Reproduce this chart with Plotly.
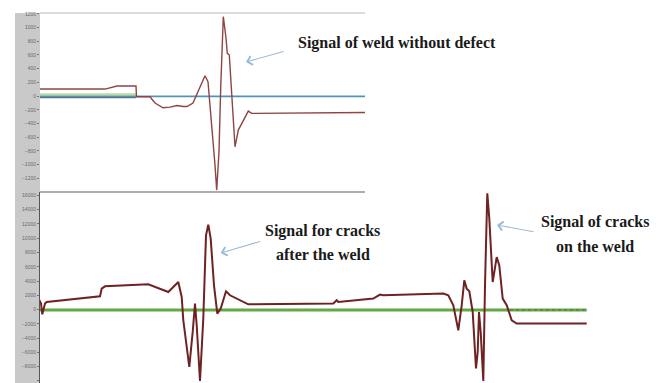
import plotly.graph_objects as go

# The page body has an 8px default margin, so the figure is drawn 8px smaller
# and every layout position below is given in window pixels via px()/py().
OFF = 8
W, H = 665 - OFF, 383 - OFF

# ---------------- data ----------------
# Top panel: weld without defect (sample index, amplitude)
top_x = [0, 65, 77, 96, 96.5, 110, 115, 123, 130, 137, 143, 147, 153, 160, 165, 168,
         171.7, 175, 176.7, 179, 180.7, 183.3, 186, 187.3, 189.3, 191.7, 195, 198.3,
         203.3, 208.3, 211.7, 325]
top_y = [102, 102, 146, 146, -10, -10, -102, -171, -161, -139, -153, -153, -102, 117,
         296, 209, -375, -1007, -1372, -813, 117, 1158, 847, 623, 599, 15, -740, -496,
         -350, -219, -253, -241]
top_green_x = [0, 96]
top_green_y = [25, 25]
top_dark_x = [0, 96]
top_dark_y = [-19, -19]
top_blue_x = [0, 325]
top_blue_y = [-5, -5]

# Bottom panel: cracks after the weld and on the weld
bot_x = [-1, 1, 2.3, 5, 6.7, 60, 61.7, 65, 108.3, 128.3, 138.3, 141.7, 143.3, 149.3,
         152.7, 155, 156.7, 160, 163.3, 166, 168.3, 170.7, 174, 177.3, 180.7, 186, 190,
         200, 208.3, 293.3, 296.7, 298.3, 310, 333.3, 340, 343.3, 403.3, 408.3, 413.3,
         418.3, 421.7, 424.3, 426.7, 429.3, 432.7, 436, 437.7, 439, 440.7, 443.3, 445,
         447.3, 449.3, 452.7, 456.7, 459.3, 462.7, 466.7, 471.7, 476.7, 546.7]
bot_y = [1400, 840, -658, 840, 1064, 1862, 2940, 3262, 3542, 2464, 3864, 1764, -1498,
         -8036, -3136, 840, -2198, -10000, -1260, 10402, 11900, 9940, 3402, -560, 140,
         2562, 2002, 1302, 742, 840, 1302, 1064, 1204, 1540, 2100, 2002, 2240, 2002, 602,
         -2898, 602, 4102, 2940, 2562, -336, -8260, -5936, -336, -3136, -10000, 3402,
         16300, 12740, 3864, 7364, 6202, 1540, 602, -1498, -1960, -1960]
bot_green_x = [0, 546.7]
bot_green_y = [-60, -60]
bot_dot_x = [470, 546.7]
bot_dot_y = [-60, -60]

top_ticks = list(range(-1200, 1201, 200))
bot_ticks = list(range(-10000, 16001, 2000))

# ---------------- figure ----------------
def px(x):
    return (x - OFF) / W

def py(y):
    return 1 - (y - OFF) / H

fig = go.Figure()

fig.add_trace(go.Scatter(x=top_dark_x, y=top_dark_y, mode="lines",
                         line=dict(color="#6b6b6b", width=1.6), xaxis="x", yaxis="y"))
fig.add_trace(go.Scatter(x=top_green_x, y=top_green_y, mode="lines",
                         line=dict(color="#b9dc9e", width=2.2), xaxis="x", yaxis="y"))
fig.add_trace(go.Scatter(x=top_blue_x, y=top_blue_y, mode="lines",
                         line=dict(color="#4f93b8", width=1.8), xaxis="x", yaxis="y"))
fig.add_trace(go.Scatter(x=top_x, y=top_y, mode="lines",
                         line=dict(color="#8e4444", width=1.4), xaxis="x", yaxis="y"))

fig.add_trace(go.Scatter(x=bot_green_x, y=bot_green_y, mode="lines",
                         line=dict(color="#62a844", width=3.2), xaxis="x2", yaxis="y2"))
fig.add_trace(go.Scatter(x=bot_dot_x, y=bot_dot_y, mode="lines",
                         line=dict(color="#5a6a40", width=1, dash="dot"), xaxis="x2", yaxis="y2"))
fig.add_trace(go.Scatter(x=bot_x, y=bot_y, mode="lines",
                         line=dict(color="#6e2222", width=2), xaxis="x2", yaxis="y2"))

tickfont = dict(family="Liberation Sans", size=5, color="#6a6a6a")

fig.update_layout(
    width=W, height=H,
    margin=dict(l=0, r=0, t=0, b=0, autoexpand=False),
    paper_bgcolor="white", plot_bgcolor="rgba(0,0,0,0)",
    showlegend=False,
    xaxis=dict(domain=[px(40), px(365)], range=[0, 325], visible=False, anchor="y"),
    yaxis=dict(domain=[py(192), py(13)], range=[-1400, 1212], tickvals=top_ticks,
               tickformat="d", showgrid=False, zeroline=False, showline=False,
               ticks="outside", ticklen=2, tickcolor="#777", tickfont=tickfont,
               anchor="x", automargin=False),
    xaxis2=dict(domain=[px(40), 1], range=[0, 625], visible=False, anchor="y2"),
    yaxis2=dict(domain=[0, py(192)], range=[-10290, 16480], tickvals=bot_ticks,
                tickformat="d", showgrid=False, zeroline=False, showline=True,
                linecolor="#555", linewidth=1, ticks="outside", ticklen=2,
                tickcolor="#777", tickfont=tickfont, anchor="x2", automargin=False),
)

shapes = [
    # gray axis strip
    dict(type="rect", xref="paper", yref="paper", x0=px(15), x1=px(40), y0=0, y1=py(13),
         fillcolor="#c9c9c9", line=dict(width=0), layer="below"),
    # top border of top panel
    dict(type="line", xref="paper", yref="paper", x0=px(40), x1=px(365), y0=py(13), y1=py(13),
         line=dict(color="#cfcfcf", width=1.5)),
    # divider between panels
    dict(type="line", xref="paper", yref="paper", x0=px(40), x1=px(365), y0=py(192), y1=py(192),
         line=dict(color="#5a5a5a", width=1.2)),
]
fig.update_layout(shapes=shapes)

serif = dict(family='"Liberation Serif", "Times New Roman", serif', size=16, color="#1a1a1a")
arrow_col = "#9dbbd8"

annos = [
    dict(text="<b>Signal of weld without defect</b>", x=px(397), y=py(43)),
    dict(text="<b>Signal for cracks</b>", x=px(322.5), y=py(231)),
    dict(text="<b>after the weld</b>", x=px(322.5), y=py(254)),
    dict(text="<b>Signal of cracks</b>", x=px(594.5), y=py(222)),
    dict(text="<b>on the weld</b>", x=px(595), y=py(246)),
]
for a in annos:
    fig.add_annotation(xref="paper", yref="paper", showarrow=False, font=serif,
                       xanchor="center", yanchor="middle", **a)

arrows = [
    # tip (x, y) and tail offset (ax, ay) in pixels
    (246, 62, 39, -11),
    (220.7, 253, 41, -12),
    (497, 225, 38, 7),
]
for tx, ty, ax, ay in arrows:
    fig.add_annotation(xref="paper", yref="paper", x=px(tx), y=py(ty), ax=ax, ay=ay,
                       text="", showarrow=True, arrowhead=4, arrowsize=1.6,
                       arrowwidth=1.1, arrowcolor=arrow_col)

fig.write_html("out.html")
